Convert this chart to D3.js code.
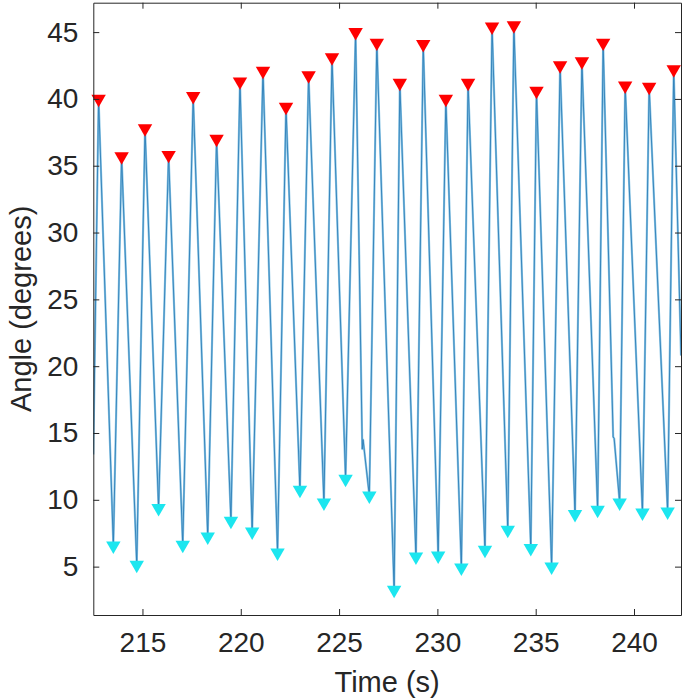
<!DOCTYPE html>
<html>
<head>
<meta charset="utf-8">
<script src="https://cdn.jsdelivr.net/npm/d3@7"></script>
<style>
  html, body { margin: 0; padding: 0; background: #fff; }
  svg { display: block; }
  text { font-family: "Liberation Sans", Arial, Helvetica, sans-serif; fill: #262626; }
</style>
</head>
<body>
<svg id="chart" width="685" height="700"></svg>
<script>
// ---- data ----
const peakT = [212.77,213.94,215.13,216.33,217.58,218.77,219.96,221.13,222.30,223.45,224.64,225.84,226.92,228.09,229.28,230.43,231.56,232.78,233.89,235.04,236.24,237.35,238.43,239.55,240.77,242.02];
const peakV = [40.0,35.7,37.8,35.8,40.2,37.0,41.3,42.1,39.4,41.75,43.1,45.0,44.2,41.2,44.1,40.0,41.2,45.4,45.5,40.6,42.5,42.8,44.2,41.0,40.9,42.2];
const troughT = [213.52,214.71,215.82,217.05,218.32,219.50,220.58,221.87,223.01,224.23,225.33,226.54,227.80,228.91,230.04,231.22,232.42,233.58,234.75,235.81,237.00,238.15,239.27,240.43,241.71];
const troughV = [6.57,5.13,9.37,6.62,7.25,8.42,7.62,6.05,10.74,9.79,11.57,10.31,3.26,5.75,5.82,4.92,6.25,7.75,6.38,5.0,8.92,9.24,9.79,9.04,9.12];
// extra trace vertices (start, end, small wiggles)
const extraT = [212.50, 226.18, 226.22, 238.94, 238.99, 242.39];
const extraV = [13.4, 13.8, 14.5, 14.7, 14.6, 20.8];

const xTicks = [215, 220, 225, 230, 235, 240];
const yTicks = [5, 10, 15, 20, 25, 30, 35, 40, 45];
const xDomain = [212.5, 242.39];
const yDomain = [1.38, 47.2];
const xLabel = "Time (s)";
const yLabel = "Angle (degrees)";

// ---- layout ----
const svg = d3.select("#chart");
const L = 93.3, R = 681, T = 2.7, B = 615;
const x = d3.scaleLinear().domain(xDomain).range([L, R]);
const y = d3.scaleLinear().domain(yDomain).range([B, T]);
const axisColor = "#262626";

// trace
const trace = [];
peakT.forEach((t, i) => trace.push([t, peakV[i]]));
troughT.forEach((t, i) => trace.push([t, troughV[i]]));
extraT.forEach((t, i) => trace.push([t, extraV[i]]));
trace.sort((a, b) => a[0] - b[0]);

svg.append("defs").append("clipPath").attr("id", "clip")
  .append("rect").attr("x", L).attr("y", T).attr("width", R - L).attr("height", B - T);

const line = d3.line().x(d => x(d[0])).y(d => y(d[1]));
svg.append("path")
  .datum(trace)
  .attr("clip-path", "url(#clip)")
  .attr("fill", "none")
  .attr("stroke", "#8cc6e6")
  .attr("stroke-width", 2.2)
  .attr("stroke-linejoin", "round")
  .attr("d", line);
svg.append("path")
  .datum(trace)
  .attr("clip-path", "url(#clip)")
  .attr("fill", "none")
  .attr("stroke", "#2f7fb8")
  .attr("stroke-width", 0.9)
  .attr("stroke-linejoin", "round")
  .attr("d", line);

// markers (downward triangles)
const tri = d3.symbol().type(d3.symbolTriangle).size(90);
svg.append("g").selectAll("path")
  .data(peakT.map((t, i) => [t, peakV[i]]))
  .join("path")
  .attr("d", tri)
  .attr("transform", d => `translate(${x(d[0])},${y(d[1])}) rotate(180)`)
  .attr("fill", "#ff0000");
svg.append("g").selectAll("path")
  .data(troughT.map((t, i) => [t, troughV[i]]))
  .join("path")
  .attr("d", tri)
  .attr("transform", d => `translate(${x(d[0])},${y(d[1])}) rotate(180)`)
  .attr("fill", "#1ce6ef");

// axes (MATLAB box style, inward ticks)
const tickLen = 6;
const fontSize = 28;
const gB = svg.append("g").attr("transform", `translate(0,${B})`)
  .call(d3.axisBottom(x).tickValues(xTicks).tickSizeInner(-tickLen).tickSizeOuter(0).tickPadding(17));
const gT = svg.append("g").attr("transform", `translate(0,${T})`)
  .call(d3.axisTop(x).tickValues(xTicks).tickSizeInner(-tickLen).tickSizeOuter(0).tickFormat(""));
const gL = svg.append("g").attr("transform", `translate(${L},0)`)
  .call(d3.axisLeft(y).tickValues(yTicks).tickSizeInner(-tickLen).tickSizeOuter(0).tickPadding(15));
const gR = svg.append("g").attr("transform", `translate(${R},0)`)
  .call(d3.axisRight(y).tickValues(yTicks).tickSizeInner(-tickLen).tickSizeOuter(0).tickFormat(""));

[gB, gT, gL, gR].forEach(g => {
  g.selectAll(".domain").attr("stroke", axisColor).attr("stroke-width", 1);
  g.selectAll(".tick line").attr("stroke", axisColor).attr("stroke-width", 1);
  g.selectAll(".tick text")
    .attr("fill", axisColor)
    .style("font-size", fontSize + "px")
    .style("font-family", '"Liberation Sans", Arial, Helvetica, sans-serif');
});

// axis titles
svg.append("text")
  .attr("x", (L + R) / 2).attr("y", 692)
  .attr("text-anchor", "middle")
  .style("font-size", "29px")
  .text(xLabel);
svg.append("text")
  .attr("transform", `translate(31,${(T + B) / 2}) rotate(-90)`)
  .attr("text-anchor", "middle")
  .style("font-size", "29px")
  .text(yLabel);
</script>
</body>
</html>
